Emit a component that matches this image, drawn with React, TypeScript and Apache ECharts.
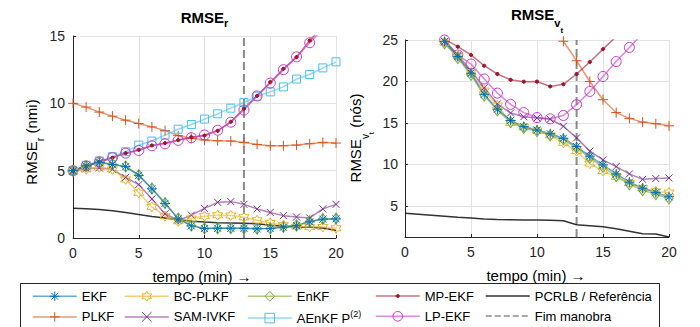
import React, { useEffect, useRef } from "react";
import * as echarts from "echarts";

const FONT = '"Liberation Sans", Arial, Helvetica, sans-serif';
const INK = "#262626";
const GRID_COLOR = "#e2e2e2";

// time in minutes (x values)
const MINUTES = [0, 1, 2, 3, 4, 5, 6, 7, 8, 9, 10, 11, 12, 13, 14, 15, 16, 17, 18, 19, 20];
const MANEUVER_END = 13;
const X_TICKS = { min: 0, max: 20, interval: 5 };
const R_AXIS = { min: 0, max: 15, interval: 5 };
const V_AXIS = { min: 1.25, max: 25 };

// ---- RMSE of range (nmi)
const R_EKF = [5.0, 5.35, 5.6, 5.45, 5.3, 4.65, 3.65, 2.57, 1.42, 0.9, 0.7, 0.72, 0.72, 0.72, 0.68, 0.7, 0.8, 0.92, 1.2, 1.4, 1.42];
const R_BCPLKF = [5.0, 5.1, 5.25, 5.1, 4.35, 3.36, 2.31, 1.62, 1.24, 1.44, 1.62, 1.69, 1.67, 1.54, 1.32, 1.12, 0.95, 0.85, 0.82, 0.82, 0.72];
const R_ENKF = [5.0, 5.33, 5.62, 5.5, 5.32, 4.68, 3.68, 2.6, 1.45, 0.92, 0.72, 0.72, 0.73, 0.72, 0.7, 0.72, 0.82, 0.95, 1.25, 1.42, 1.45];
const R_MPEKF = [5.0, 5.35, 5.65, 5.96, 6.3, 6.55, 6.87, 7.05, 7.27, 7.49, 7.61, 7.96, 8.63, 9.61, 10.56, 11.57, 12.56, 13.43, 14.66, 15.7, 16.7];
const R_PCRLB = [2.2, 2.18, 2.12, 2.02, 1.9, 1.75, 1.6, 1.48, 1.35, 1.25, 1.18, 1.14, 1.12, 1.1, 1.05, 0.95, 0.88, 0.82, 0.8, 0.75, 0.55];
const R_PLKF = [10.0, 9.72, 9.35, 9.05, 8.75, 8.5, 8.25, 7.98, 7.6, 7.4, 7.28, 7.22, 7.2, 7.1, 6.95, 6.85, 6.85, 6.9, 7.0, 7.1, 7.05];
const R_SAMIVKF = [5.0, 5.15, 5.2, 5.1, 4.5, 3.97, 2.9, 1.8, 1.3, 1.7, 2.2, 2.65, 2.7, 2.5, 2.16, 1.9, 1.66, 1.56, 1.49, 2.16, 2.5];
const R_AENKF = [5.0, 5.4, 5.72, 6.04, 6.4, 6.9, 7.2, 7.64, 8.08, 8.43, 8.83, 9.22, 9.64, 10.06, 10.53, 10.85, 11.22, 11.8, 12.14, 12.63, 13.08];
const R_LPEKF = [5.0, 5.35, 5.65, 5.96, 6.3, 6.5, 6.85, 7.0, 7.25, 7.45, 7.65, 8.0, 8.6, 9.5, 10.55, 11.5, 12.5, 13.45, 14.5, 15.5, 16.5];

// ---- RMSE of target speed (knots)
const V_EKF = [null, null, null, 24.8, 23.0, 21.0, 18.45, 16.65, 15.3, 14.55, 14.15, 13.7, 13.15, 12.15, 11.0, 9.94, 8.86, 7.86, 7.13, 6.6, 6.1];
const V_BCPLKF = [null, null, null, 24.7, 23.1, 21.1, 18.9, 17.1, 15.0, 14.5, 14.1, 13.5, 12.6, 11.6, 10.1, 9.2, 8.5, 7.75, 7.15, 6.75, 6.6];
const V_ENKF = [null, null, null, 24.6, 22.8, 20.8, 18.3, 16.5, 15.1, 14.4, 14.0, 13.5, 13.0, 12.0, 10.8, 9.7, 8.6, 7.6, 6.9, 6.4, 5.9];
const V_MPEKF = [null, null, null, 25.1, 24.2, 23.2, 21.9, 20.9, 20.2, 19.98, 19.99, 19.4, 19.66, 20.9, 22.35, 23.9, 25.4, 27.0, 28.8, 30.8, 33.0];
const V_PCRLB = [4.12, 4.0, 3.88, 3.76, 3.64, 3.53, 3.42, 3.36, 3.33, 3.3, 3.3, 3.28, 3.2, 2.72, 2.6, 2.48, 2.25, 1.95, 1.65, 1.6, 1.26];
const V_PLKF = [null, null, null, null, null, null, null, null, null, null, null, null, 24.85, 22.5, 20.0, 17.8, 16.25, 15.55, 15.1, 14.9, 14.65];
const V_SAMIVKF = [null, null, null, 24.85, 23.2, 21.3, 19.25, 17.3, 16.2, 15.75, 15.6, 15.45, 14.6, 13.2, 11.6, 10.55, 9.74, 8.86, 8.2, 8.3, 8.37];
const V_LPEKF = [null, null, null, 25.0, 23.2, 22.1, 20.3, 18.6, 17.25, 16.25, 15.65, 15.5, 15.9, 17.2, 18.8, 20.6, 22.4, 24.1, 25.8, 27.5, 29.2];

const N_EKF = "EKF";
const N_BC = "BC-PLKF";
const N_ENKF = "EnKF";
const N_MP = "MP-EKF";
const N_PCRLB = "PCRLB / Referência";
const N_PLKF = "PLKF";
const N_SAM = "SAM-IVKF";
const N_AENKF = "AEnKF P(2)";
const N_LP = "LP-EKF";
const N_FIM = "Fim manobra";

const SYM_ASTERISK = "path://M5 0L5 10M0 5L10 5M1.46 1.46L8.54 8.54M8.54 1.46L1.46 8.54";
const SYM_HEXAGRAM = "path://M5 0L6.44 2.5L9.33 2.5L7.89 5L9.33 7.5L6.44 7.5L5 10L3.56 7.5L0.67 7.5L2.11 5L0.67 2.5L3.56 2.5Z";
const SYM_PLUS = "path://M5 0L5 10M0 5L10 5";
const SYM_CROSS = "path://M0 0L10 10M10 0L0 10";
const SYM_DOT = "path://M0 0M10 10M6.57 5.65L5.65 6.57L4.35 6.57L3.43 5.65L3.43 4.35L4.35 3.43L5.65 3.43L6.57 4.35Z";

type Style = { color: string; symbol: string; size: any; filled?: boolean; lineOpacity?: number; lineType?: string; lineWidth?: number };
const STYLES: Record<string, Style> = {
  [N_EKF]: { color: "#0072BD", symbol: SYM_ASTERISK, size: 10 },
  [N_BC]: { color: "#EDB120", symbol: SYM_HEXAGRAM, size: 10 },
  [N_ENKF]: { color: "#77AC30", symbol: "diamond", size: [8, 11] },
  [N_MP]: { color: "#A2142F", symbol: SYM_DOT, size: 10, filled: true },
  [N_PCRLB]: { color: "#000000", symbol: "circle", size: 0, lineOpacity: 0.8 },
  [N_PLKF]: { color: "#D95319", symbol: SYM_PLUS, size: 10 },
  [N_SAM]: { color: "#7E2F8E", symbol: SYM_CROSS, size: 7 },
  [N_AENKF]: { color: "#4DBEEE", symbol: "rect", size: 8 },
  [N_LP]: { color: "#CC33CC", symbol: "circle", size: 10 },
  [N_FIM]: { color: "#000000", symbol: "circle", size: 0, lineOpacity: 0.45, lineType: "dashed", lineWidth: 2 },
};

const RANGE_SERIES: [string, (number | null)[]][] = [
  [N_PCRLB, R_PCRLB],
  [N_PLKF, R_PLKF],
  [N_AENKF, R_AENKF],
  [N_MP, R_MPEKF],
  [N_LP, R_LPEKF],
  [N_SAM, R_SAMIVKF],
  [N_BC, R_BCPLKF],
  [N_ENKF, R_ENKF],
  [N_EKF, R_EKF],
];
const SPEED_SERIES: [string, (number | null)[]][] = [
  [N_PCRLB, V_PCRLB],
  [N_PLKF, V_PLKF],
  [N_MP, V_MPEKF],
  [N_LP, V_LPEKF],
  [N_SAM, V_SAMIVKF],
  [N_BC, V_BCPLKF],
  [N_ENKF, V_ENKF],
  [N_EKF, V_EKF],
];

const LEGEND_COLUMNS = [
  { left: 32, items: [N_EKF, N_PLKF] },
  { left: 124, items: [N_BC, N_SAM] },
  { left: 247, items: [N_ENKF, N_AENKF] },
  { left: 375, items: [N_MP, N_LP] },
  { left: 485, items: [N_PCRLB, N_FIM] },
];

function makeSeries(name: string, data: any[], grid: number) {
  const s = STYLES[name];
  const noMarker = s.size === 0;
  return {
    type: "line",
    name,
    xAxisIndex: grid,
    yAxisIndex: grid,
    data,
    symbol: s.symbol,
    symbolSize: s.size,
    symbolKeepAspect: false,
    showSymbol: !noMarker,
    silent: true,
    clip: true,
    connectNulls: false,
    lineStyle: {
      color: s.color,
      width: s.lineWidth ?? 1.5,
      opacity: s.lineOpacity ?? 0.6,
      type: s.lineType ?? "solid",
    },
    itemStyle: noMarker
      ? { color: "none", borderColor: "none", borderWidth: 0 }
      : { color: s.filled ? s.color : "none", borderColor: s.color, borderWidth: 1 },
    emphasis: { disabled: true },
  };
}

function toPairs(vals: (number | null)[]) {
  return MINUTES.map((t, i) => [t, vals[i]]);
}

function axisPair(grid: number, yMin: number, yMax: number, yInterval?: number, labelMargin = 8) {
  const x: any = {
    type: "value",
    gridIndex: grid,
    min: X_TICKS.min,
    max: X_TICKS.max,
    interval: X_TICKS.interval,
    axisLine: { show: true, lineStyle: { color: INK, width: 1 } },
    axisTick: { show: true, inside: true, length: 3, lineStyle: { color: INK } },
    axisLabel: { color: INK, fontFamily: FONT, fontSize: 14, margin: 8 },
    splitLine: { show: true, lineStyle: { color: GRID_COLOR, width: 1 } },
  };
  const y: any = {
    type: "value",
    gridIndex: grid,
    min: yMin,
    max: yMax,
    axisLine: { show: true, lineStyle: { color: INK, width: 1 } },
    axisTick: { show: true, inside: true, length: 3, lineStyle: { color: INK } },
    axisLabel: {
      color: INK,
      fontFamily: FONT,
      fontSize: 14,
      margin: labelMargin,
      formatter: (v: number) => (v % 5 === 0 ? String(v) : ""),
    },
    splitLine: { show: true, lineStyle: { color: GRID_COLOR, width: 1 } },
  };
  if (yInterval) y.interval = yInterval;
  return [x, y];
}

const tok = (size: number, height: number, bold = false) => ({
  fontSize: size,
  fontFamily: FONT,
  fontWeight: bold ? "bold" : "normal",
  height,
  lineHeight: height,
  verticalAlign: "top",
  fill: "#000",
});

export default function App() {
  const ref = useRef<HTMLDivElement>(null);
  useEffect(() => {
    if (!ref.current) return;
    const chart = echarts.init(ref.current, null, { renderer: "svg" });
    const [x0, y0] = axisPair(0, R_AXIS.min, R_AXIS.max, R_AXIS.interval, 8);
    const [x1, y1] = axisPair(1, V_AXIS.min, V_AXIS.max, undefined, 7);

    const series: any[] = [];
    series.push(makeSeries(N_FIM, [[MANEUVER_END, R_AXIS.min], [MANEUVER_END, R_AXIS.max]], 0));
    series.push(makeSeries(N_FIM, [[MANEUVER_END, V_AXIS.min], [MANEUVER_END, V_AXIS.max]], 1));
    RANGE_SERIES.forEach(([n, v]) => series.push(makeSeries(n, toPairs(v), 0)));
    SPEED_SERIES.forEach(([n, v]) => series.push(makeSeries(n, toPairs(v), 1)));

    const option: any = {
      animation: false,
      backgroundColor: "#ffffff",
      grid: [
        { left: 73, top: 36, width: 263, height: 202, containLabel: false },
        { left: 405, top: 40, width: 264, height: 197, containLabel: false },
      ],
      xAxis: [x0, x1],
      yAxis: [y0, y1],
      legend: LEGEND_COLUMNS.map((col) => ({
        orient: "vertical",
        left: col.left,
        top: 289,
        padding: 0,
        itemWidth: 44,
        itemHeight: 12,
        itemGap: 6,
        selectedMode: false,
        data: col.items,
        lineStyle: { width: 1.5 },
        itemStyle: { borderWidth: 1 },
        textStyle: {
          fontFamily: FONT,
          fontSize: 13,
          color: "#000",
          lineHeight: 14,
          rich: {
            a: { fontFamily: FONT, fontSize: 13, color: "#000", height: 14, lineHeight: 14, verticalAlign: "top" },
            b: { fontFamily: FONT, fontSize: 9, color: "#000", height: 6, lineHeight: 14, verticalAlign: "top" },
          },
        },
        formatter: (n: string) => (n === N_AENKF ? "{a|AEnKF P}{b|(2)}" : n),
      })),
      graphic: [
        {
          type: "rect",
          silent: true,
          z: 0,
          shape: { x: 20.5, y: 283.5, width: 639, height: 60 },
          style: { fill: "#fff", stroke: INK, lineWidth: 1 },
        },
        {
          type: "text",
          silent: true,
          x: 204.5,
          y: 9,
          style: {
            text: "{m|RMSE}{s|r}",
            align: "center",
            verticalAlign: "top",
            rich: { m: tok(15, 16, true), s: tok(11, 27, true) },
          },
        },
        {
          type: "text",
          silent: true,
          x: 537,
          y: 6,
          style: {
            text: "{m|RMSE}{s|v}{t|t}",
            align: "center",
            verticalAlign: "top",
            rich: { m: tok(15, 16, true), s: tok(11, 34, true), t: tok(8, 48, true) },
          },
        },
        {
          type: "text",
          silent: true,
          x: 23,
          y: 142,
          rotation: Math.PI / 2,
          style: {
            text: "{m|RMSE}{s|r}{m| (nmi)}",
            align: "center",
            verticalAlign: "top",
            rich: { m: tok(15, 16), s: tok(11, 33) },
          },
        },
        {
          type: "text",
          silent: true,
          x: 347,
          y: 138,
          rotation: Math.PI / 2,
          style: {
            text: "{m|RMSE}{s|v}{t|t}{m| (nós)}",
            align: "center",
            verticalAlign: "top",
            rich: { m: tok(15, 16), s: tok(10, 36), t: tok(8, 48) },
          },
        },
        {
          type: "text",
          silent: true,
          x: 202,
          y: 276,
          style: { text: "tempo (min) →", align: "center", verticalAlign: "middle", fontFamily: FONT, fontSize: 15, fill: "#000" },
        },
        {
          type: "text",
          silent: true,
          x: 536,
          y: 275,
          style: { text: "tempo (min) →", align: "center", verticalAlign: "middle", fontFamily: FONT, fontSize: 15, fill: "#000" },
        },
      ],
      series,
    };
    chart.setOption(option);
    return () => chart.dispose();
  }, []);
  return <div ref={ref} style={{ position: "absolute", left: 0, top: 0, width: 700, height: 327 }} />;
}
